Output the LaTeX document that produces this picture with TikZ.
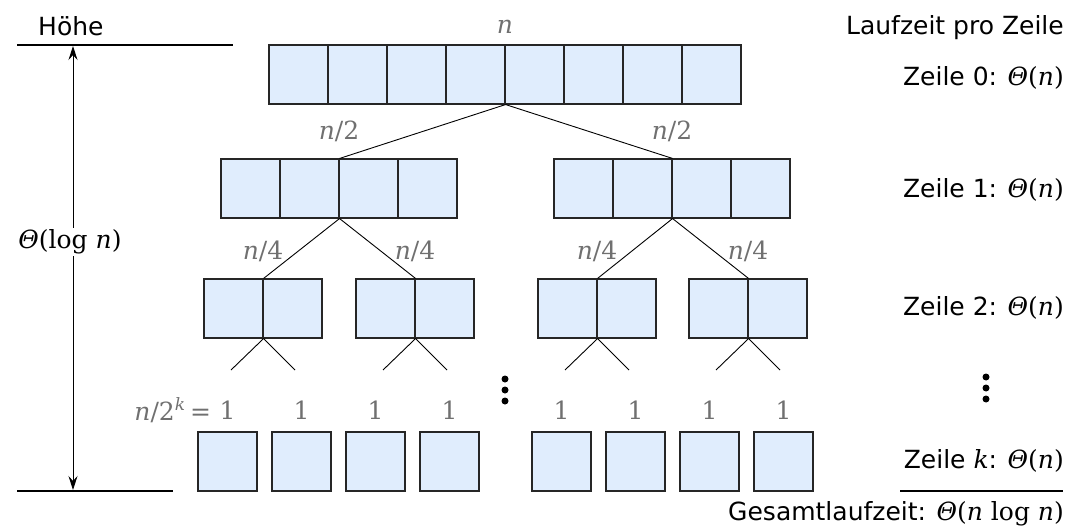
\documentclass[tikz,border=0pt]{standalone}
\usepackage{fontspec}
\setmainfont{DejaVu Sans}
\newfontfamily\mfam{DejaVu Serif}
\usetikzlibrary{arrows.meta}
\definecolor{cellblue}{RGB}{224,237,253}
\definecolor{lblgray}{RGB}{112,112,112}
\newcommand\mi[1]{{\mfam\itshape #1}}
\newcommand\mr[1]{{\mfam #1}}
\newcommand\Th{\mi{Θ}}
\tikzset{
  every node/.style={font=\fontsize{25}{30}\selectfont, inner sep=0pt},
  cell/.style={draw=black!85, fill=cellblue, minimum size=59pt, line width=1.1pt},
  edge/.style={draw=black, line width=0.9pt},
  lbl/.style={text=lblgray},
  rtxt/.style={anchor=base east},
  hline/.style={line width=1.8pt},
  vdot/.style={fill=black, circle, minimum size=7pt},
  harrow/.style={line width=0.9pt, {Stealth[length=14pt,width=9pt,inset=5pt]}-{Stealth[length=14pt,width=9pt,inset=5pt]}},
}
\begin{document}
\begin{tikzpicture}[x=1pt,y=-1pt]
\useasboundingbox (0,0) rectangle (1070,530);
% top row
\foreach \i in {1,...,8} \node[cell] (t\i) at (239.5+59*\i,74.5) {};
% row 1
\foreach \i in {1,...,4} {
  \node[cell] (a\i) at (191.5+59*\i,188.5) {};
  \node[cell] (b\i) at (524.5+59*\i,188.5) {};
}
% row 2 pairs
\foreach \p/\l in {1/204,2/356,3/538,4/689} {
  \node[cell] (p\p a) at (\l+29.5,308.5) {};
  \node[cell] (p\p b) at (\l+88.5,308.5) {};
  \coordinate (s\p l) at (\l+59-32,370);
  \coordinate (s\p r) at (\l+59+32,370);
}
% bottom row
\foreach \i in {1,...,4} {
  \node[cell] (c\i) at (198+74*\i-74+29.5,461.5) {};
  \node[cell] (d\i) at (532+74*\i-74+29.5,461.5) {};
  \node[lbl] (lc\i) at (198+74*\i-74+29.5,410) {\mr{1}};
  \node[lbl] (ld\i) at (532+74*\i-74+29.5,410) {\mr{1}};
}
\node[lbl, anchor=east] (nk) at ([xshift=-8pt]lc1.west) {\mi{n}\mr{/2}\raisebox{0.42em}{\fontsize{17}{17}\selectfont\mi{k}}\hspace{5pt}\mr{=}};
% connectors
\draw[edge] (t4.south east) -- (a2.north east);
\draw[edge] (t4.south east) -- (b2.north east);
\draw[edge] (a2.south east) -- (p1a.north east);
\draw[edge] (a2.south east) -- (p2a.north east);
\draw[edge] (b2.south east) -- (p3a.north east);
\draw[edge] (b2.south east) -- (p4a.north east);
\foreach \p in {1,...,4} {
  \draw[edge] (p\p a.south east) -- (s\p l);
  \draw[edge] (p\p a.south east) -- (s\p r);
}
% size labels
\node[lbl] (ln) at (505,27) {\mi{n}};
\node[lbl] (ln2a) at (339,131) {\mi{n}\mr{/2}};
\node[lbl] (ln2b) at (672,131) {\mi{n}\mr{/2}};
\node[lbl] (ln4a) at (263,251) {\mi{n}\mr{/4}};
\node[lbl] (ln4b) at (415,251) {\mi{n}\mr{/4}};
\node[lbl] (ln4c) at (597,251) {\mi{n}\mr{/4}};
\node[lbl] (ln4d) at (748,251) {\mi{n}\mr{/4}};
% vertical dots
\foreach \k/\y in {1/379,2/390,3/401} \node[vdot] (md\k) at (505,\y) {};
\foreach \k/\y in {1/377,2/388,3/399} \node[vdot] (rd\k) at (986,\y) {};
% height annotation
\node[anchor=base west] (hoehe) at (38,35) {Höhe};
\coordinate (htl) at (17,45);
\coordinate (htr) at (233,45);
\coordinate (hbl) at (17,491);
\coordinate (hbr) at (173,491);
\coordinate (atop) at (73,46);
\coordinate (abot) at (73,490);
\draw[hline] (htl) -- (htr);
\draw[hline] (hbl) -- (hbr);
\draw[harrow] (atop) -- (abot);
\node[fill=white, inner sep=2pt] (hlog) at (70,242) {\Th\mr{(log }\mi{n}\mr{)}};
% right column
\node[rtxt] (rt0) at (1064,34) {Laufzeit pro Zeile};
\node[rtxt] (rt1) at (1064,85) {Zeile 0: \Th\mr{(}\mi{n}\mr{)}};
\node[rtxt] (rt2) at (1064,197) {Zeile 1: \Th\mr{(}\mi{n}\mr{)}};
\node[rtxt] (rt3) at (1064,315) {Zeile 2: \Th\mr{(}\mi{n}\mr{)}};
\node[rtxt] (rt4) at (1064,468) {Zeile \mi{k}: \Th\mr{(}\mi{n}\mr{)}};
\coordinate (sl) at (900,491);
\coordinate (sr) at (1063,491);
\draw[line width=1.2pt] (sl) -- (sr);
\node[rtxt] (rt5) at (1064,520) {Gesamtlaufzeit: \Th\mr{(}\mi{n}\mr{ log }\mi{n}\mr{)}};
\end{tikzpicture}
\end{document}
